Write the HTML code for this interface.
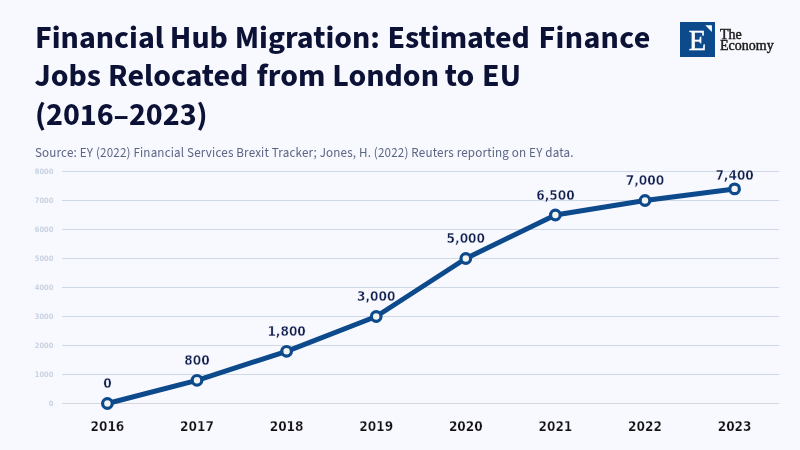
<!DOCTYPE html>
<html lang="en">
<head>
<meta charset="utf-8">
<title>Financial Hub Migration: Estimated Finance Jobs Relocated from London to EU (2016–2023)</title>
<style>
html,body{margin:0;padding:0;}
body{width:800px;height:450px;overflow:hidden;background:#f8f8ff;position:relative;font-family:"Source Sans 3","Liberation Sans",sans-serif;}
h1{position:absolute;left:35px;top:19.1px;margin:0;white-space:nowrap;font-family:"Source Sans 3","Liberation Sans",sans-serif;font-weight:700;font-size:32px;line-height:38.4px;color:#0b1236;letter-spacing:0;word-spacing:1.3px;}
.src{position:absolute;left:35px;top:145px;letter-spacing:0.17px;margin:0;font-size:13px;line-height:16px;color:#5b6584;white-space:nowrap;}
.logo{position:absolute;left:680px;top:22px;width:35px;height:35px;background:#0d4a8c;}
.logo .e{position:absolute;left:0;top:0.5px;width:35px;height:35px;text-align:center;font-family:"Liberation Serif",serif;font-size:28.5px;line-height:35px;color:#fff;-webkit-text-stroke:0.5px #fff;}
.logo svg{position:absolute;left:0;top:0;}
.brand{position:absolute;left:720px;top:28.5px;font-family:"Liberation Serif",serif;font-weight:400;font-size:14px;line-height:11px;color:#1a1a1a;-webkit-text-stroke:0.45px #1a1a1a;}
svg.chart{position:absolute;left:0;top:0;}
h1,.src,.brand,.logo,svg.chart{will-change:transform;}
h1 .ln{display:block;height:38.4px;transform-origin:0 0;}
h1 .ln span{position:relative;}
.fb h1{font-family:"Liberation Sans",Arial,sans-serif;font-size:28.6px;word-spacing:0;}
.fb h1 .ln span{left:0!important;letter-spacing:0!important;}
.fb .src{font-family:"Liberation Sans",Arial,sans-serif;font-size:12px;letter-spacing:0;transform-origin:0 0;}
</style>
</head>
<body>
<h1><span class="ln">Financial <span style="left:-1.8px">Hub</span> <span style="left:-2.7px">Migration:</span> <span style="left:-2.8px">Estimated</span> <span style="left:-2px;letter-spacing:0.35px">Finance</span></span><span class="ln"><span style="left:-0.5px">Jobs</span> <span style="left:-1px">Relocated</span> <span style="left:-0.3px">from</span> <span style="left:-1px">London</span> <span style="left:-2.8px">to</span> <span style="left:-2.7px">EU</span></span><span class="ln">(2016–2023)</span></h1>
<div class="logo"><div class="e">E</div><svg width="35" height="35"><polygon points="25.3,3.2 31.9,3.2 31.9,9.9" fill="#fff"/></svg></div>
<div class="brand">The<br>Economy</div>
<p class="src">Source: EY (2022) Financial Services Brexit Tracker; Jones, H. (2022) Reuters reporting on EY data.</p>
<svg class="chart" width="800" height="450" viewBox="0 0 800 450">
  <g stroke="#cfd8e6" stroke-width="1">
    <line x1="62" y1="171.5" x2="779" y2="171.5"/>
    <line x1="62" y1="200.5" x2="779" y2="200.5"/>
    <line x1="62" y1="229.5" x2="779" y2="229.5"/>
    <line x1="62" y1="258.5" x2="779" y2="258.5"/>
    <line x1="62" y1="287.5" x2="779" y2="287.5"/>
    <line x1="62" y1="316.5" x2="779" y2="316.5"/>
    <line x1="62" y1="345.5" x2="779" y2="345.5"/>
    <line x1="62" y1="374.5" x2="779" y2="374.5"/>
  </g>
  <line x1="62" y1="403.5" x2="779" y2="403.5" stroke="#d6d6dc" stroke-width="1"/>
  <g font-family="DejaVu Sans, sans-serif" font-stretch="condensed" font-weight="bold" font-size="7.5" fill="#c9d3e1" text-anchor="end">
    <text x="53.5" y="173.5">8000</text>
    <text x="53.5" y="202.5">7000</text>
    <text x="53.5" y="231.5">6000</text>
    <text x="53.5" y="260.5">5000</text>
    <text x="53.5" y="289.5">4000</text>
    <text x="53.5" y="318.5">3000</text>
    <text x="53.5" y="347.5">2000</text>
    <text x="53.5" y="376.5">1000</text>
    <text x="53.5" y="405.5">0</text>
  </g>
  <polyline fill="none" stroke="#0c4a8c" stroke-width="5" stroke-linejoin="round" stroke-linecap="round" points="107.4,403.5 197.0,380.3 286.6,351.3 376.2,316.5 465.8,258.5 555.4,215.0 645.0,200.5 734.6,188.9"/>
  <g fill="#f5f3f0" stroke="#0c4a8c" stroke-width="3.2">
    <circle cx="107.4" cy="403.5" r="4.8"/>
    <circle cx="197.0" cy="380.3" r="4.8"/>
    <circle cx="286.6" cy="351.3" r="4.8"/>
    <circle cx="376.2" cy="316.5" r="4.8"/>
    <circle cx="465.8" cy="258.5" r="4.8"/>
    <circle cx="555.4" cy="215.0" r="4.8"/>
    <circle cx="645.0" cy="200.5" r="4.8"/>
    <circle cx="734.6" cy="188.9" r="4.8"/>
  </g>
  <g font-family="DejaVu Sans, sans-serif" font-stretch="condensed" font-weight="bold" font-size="13.5" fill="#0f1e4c" stroke="#f8f8ff" stroke-width="0.35" text-anchor="middle">
    <text x="107.4" y="388.3">0</text>
    <text x="197.0" y="365.1">800</text>
    <text x="286.6" y="336.1">1,800</text>
    <text x="376.2" y="301.3">3,000</text>
    <text x="465.8" y="243.3">5,000</text>
    <text x="555.4" y="199.8">6,500</text>
    <text x="645.0" y="185.3">7,000</text>
    <text x="734.6" y="179.5">7,400</text>
  </g>
  <g font-family="DejaVu Sans, sans-serif" font-stretch="condensed" font-weight="bold" font-size="13.5" fill="#111" stroke="#f8f8ff" stroke-width="0.25" text-anchor="middle">
    <text x="107.4" y="430.7">2016</text>
    <text x="197.0" y="430.7">2017</text>
    <text x="286.6" y="430.7">2018</text>
    <text x="376.2" y="430.7">2019</text>
    <text x="465.8" y="430.7">2020</text>
    <text x="555.4" y="430.7">2021</text>
    <text x="645.0" y="430.7">2022</text>
    <text x="734.6" y="430.7">2023</text>
  </g>
</svg>
<script>
(function(){
  var cv=document.createElement('canvas').getContext('2d');
  function mw(f){cv.font=f;return cv.measureText('Financial Hub Migration: Estimated 2016').width;}
  if(Math.abs(mw('700 32px "Source Sans 3",monospace')-mw('700 32px monospace'))>0.5)return;
  document.documentElement.className+=' fb';
  function cw(e){var r=document.createRange();r.selectNodeContents(e);return r.getBoundingClientRect().width;}
  var lines=document.querySelectorAll('h1 .ln'),W=[615.6,486.4,172.5];
  for(var i=0;i<lines.length;i++){var a=cw(lines[i]);if(a>0)lines[i].style.transform='scaleX('+(W[i]/a)+')';}
  var src=document.querySelector('.src'),a2=cw(src);if(a2>0)src.style.transform='scaleX('+(538.6/a2)+')';
})();
</script>
</body>
</html>
